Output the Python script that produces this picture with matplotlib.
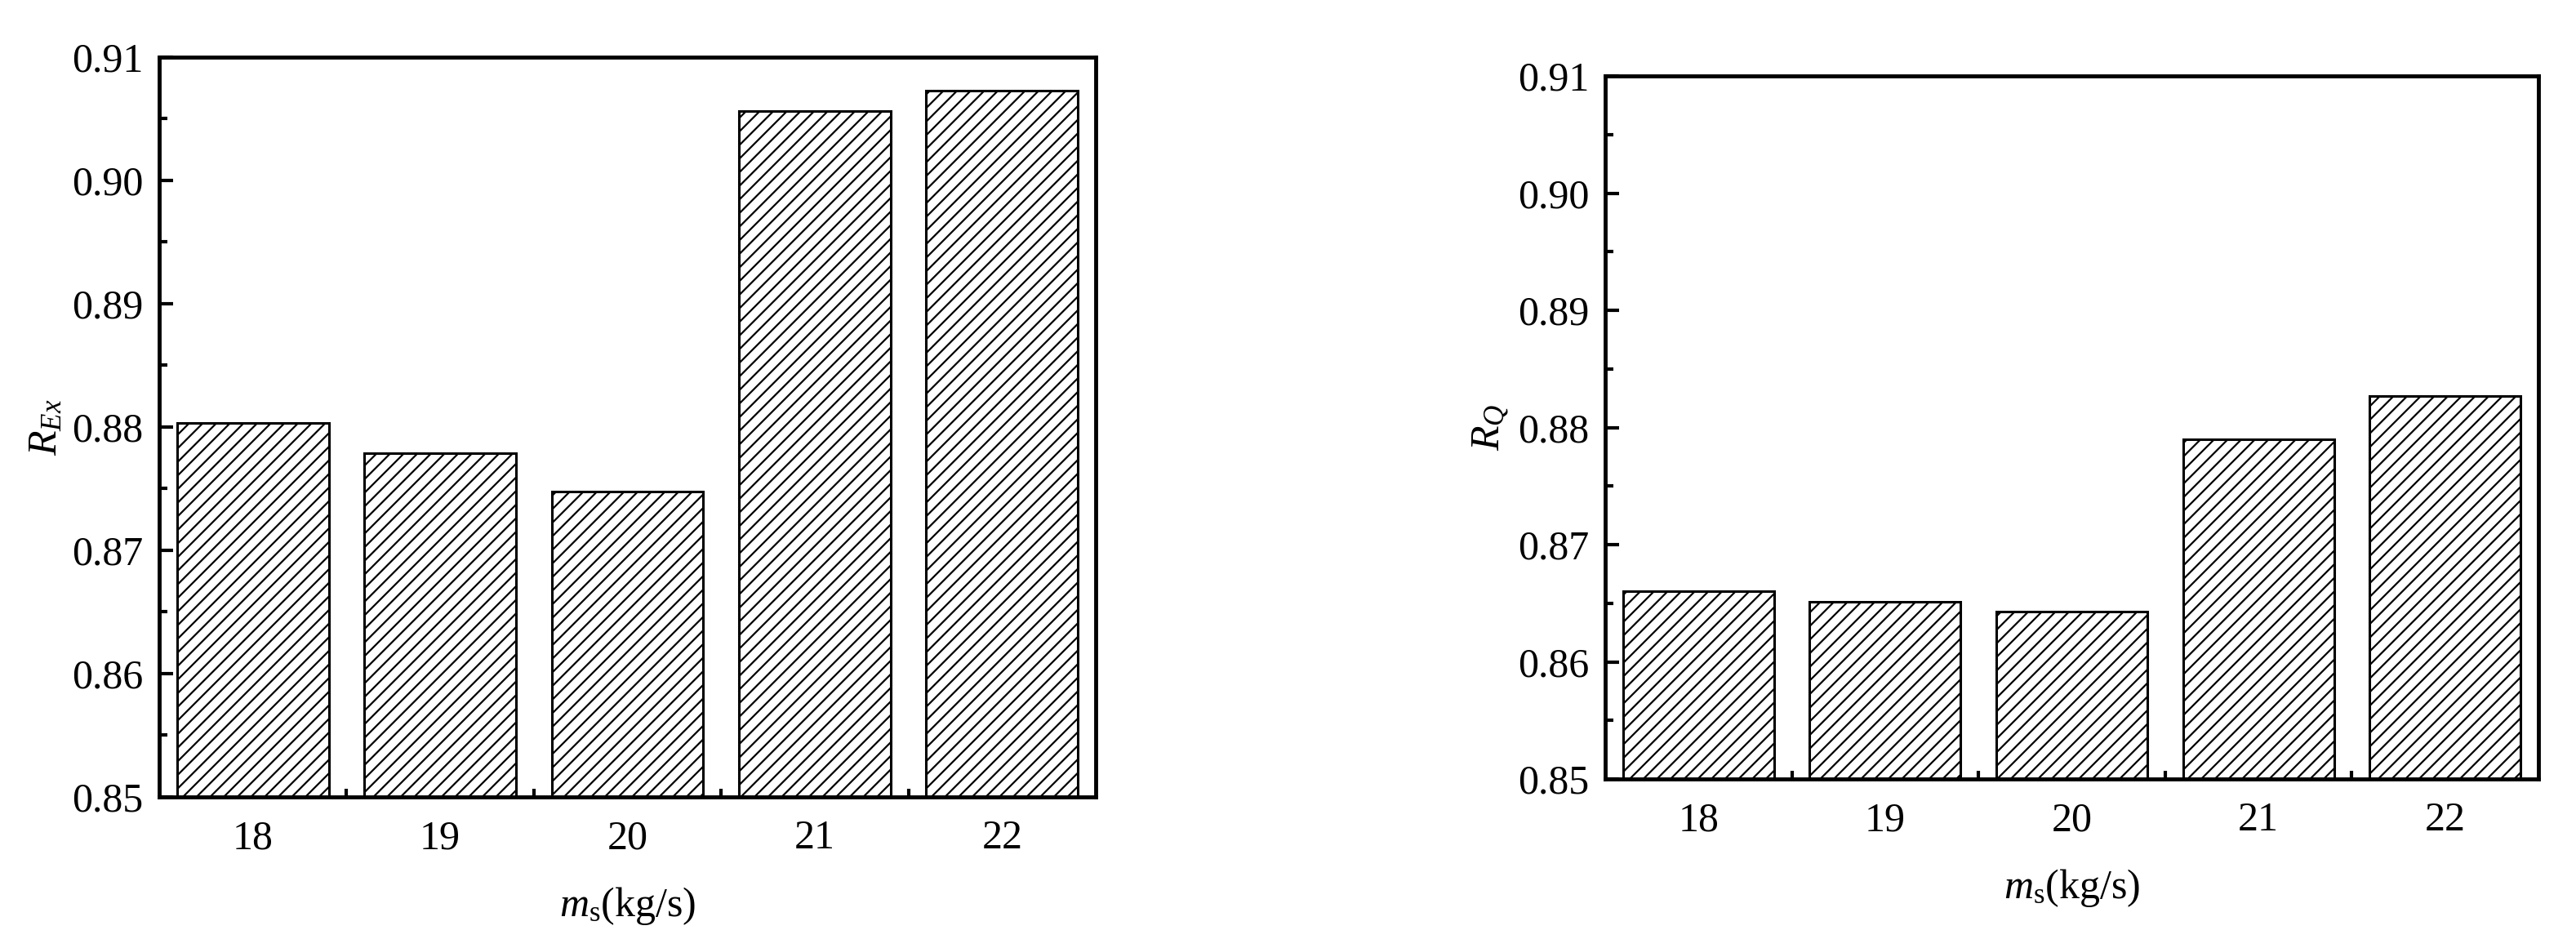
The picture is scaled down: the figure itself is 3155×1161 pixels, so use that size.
import numpy as np
import matplotlib
matplotlib.use("Agg")
import matplotlib.pyplot as plt
from matplotlib.ticker import MultipleLocator

mass_flow = [18, 19, 20, 21, 22]
r_ex = [0.8803, 0.8779, 0.8748, 0.9056, 0.9073]
r_q = [0.8660, 0.8651, 0.8643, 0.8790, 0.8827]

plt.rcParams["font.family"] = ["Liberation Serif", "DejaVu Serif"]
plt.rcParams["mathtext.fontset"] = "custom"
plt.rcParams["mathtext.rm"] = "Liberation Serif"
plt.rcParams["mathtext.it"] = "Liberation Serif:italic"
plt.rcParams["hatch.linewidth"] = 1.6

fig = plt.figure(figsize=(31.55, 11.61), dpi=100)
ax1 = fig.add_axes([195 / 3155, 1 - 976 / 1161, 1147 / 3155, 906 / 1161])
ax2 = fig.add_axes([1966 / 3155, 1 - 954 / 1161, 1143 / 3155, 861 / 1161])


def draw_panel(ax, values, ylabel):
    x = np.arange(len(mass_flow))
    ax.bar(x, values, width=0.81, color="white", edgecolor="black",
           linewidth=2.2, hatch="//", zorder=2)
    ax.set_xlim(-0.5, len(mass_flow) - 0.5)
    ax.set_ylim(0.85, 0.91)
    ax.set_xticks(x)
    ax.set_xticklabels([str(v) for v in mass_flow])
    ax.set_xticks(x[:-1] + 0.5, minor=True)
    ax.yaxis.set_major_locator(MultipleLocator(0.01))
    ax.yaxis.set_minor_locator(MultipleLocator(0.005))
    ax.yaxis.set_major_formatter(plt.FormatStrFormatter("%.2f"))
    ax.tick_params(which="major", direction="in", length=12, width=3,
                   labelsize=36, pad=14)
    ax.tick_params(which="minor", direction="in", length=7, width=3)
    ax.tick_params(axis="x", which="major", pad=20)
    for sp in ax.spines.values():
        sp.set_linewidth(3.5)
    ax.set_xlabel(r"$m_{\mathrm{s}}$(kg/s)", fontsize=36, labelpad=24)
    ax.set_ylabel(ylabel, fontsize=36, labelpad=6)


draw_panel(ax1, r_ex, r"$R_{Ex}$")
draw_panel(ax2, r_q, r"$R_{Q}$")

fig.savefig("out.png", dpi=100)
